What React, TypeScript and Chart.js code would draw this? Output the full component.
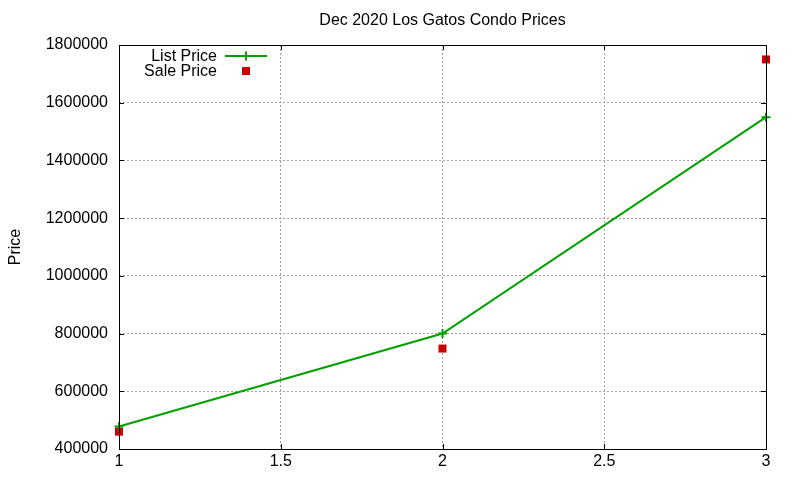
import React, { useEffect, useRef } from 'react';
import { Chart, registerables } from 'chart.js';

Chart.register(...registerables);

const X_VALUES = [1, 2, 3];
const LIST_PRICES = [478000, 800000, 1550000];
const SALE_PRICES = [460000, 748000, 1750000];

const TITLE = 'Dec 2020 Los Gatos Condo Prices';
const Y_LABEL = 'Price';
const FONT = '"Liberation Sans", Arial, sans-serif';
const GREEN = '#00a000';
const RED = '#cc0000';

// gnuplot-like frame with inward ticks, title and legend
const gnuplotDecor = {
    id: 'gnuplotDecor',
    afterDraw(chart: any) {
        const { ctx, chartArea: a, scales } = chart;
        ctx.save();
        ctx.strokeStyle = '#000';
        ctx.lineWidth = 1;
        ctx.strokeRect(Math.round(a.left) + 0.5, Math.round(a.top) + 0.5, Math.round(a.right - a.left), Math.round(a.bottom - a.top));

        const tl = 5;
        ctx.beginPath();
        scales.x.ticks.forEach((t: any) => {
            const px = Math.round(scales.x.getPixelForValue(t.value)) + 0.5;
            ctx.moveTo(px, a.bottom); ctx.lineTo(px, a.bottom - tl);
            ctx.moveTo(px, a.top); ctx.lineTo(px, a.top + tl);
        });
        scales.y.ticks.forEach((t: any) => {
            const py = Math.round(scales.y.getPixelForValue(t.value)) + 0.5;
            ctx.moveTo(a.left, py); ctx.lineTo(a.left + tl, py);
            ctx.moveTo(a.right, py); ctx.lineTo(a.right - tl, py);
        });
        ctx.stroke();

        ctx.fillStyle = '#000';
        ctx.font = `16px ${FONT}`;
        ctx.textAlign = 'center';
        ctx.textBaseline = 'middle';
        ctx.fillText(TITLE, (a.left + a.right) / 2, 21);

        // legend
        ctx.textAlign = 'right';
        ctx.fillText('List Price', 217, 56.5);
        ctx.fillText('Sale Price', 217, 72);
        ctx.strokeStyle = GREEN;
        ctx.lineWidth = 2;
        ctx.beginPath();
        ctx.moveTo(225, 56); ctx.lineTo(267, 56);
        ctx.moveTo(246, 51.5); ctx.lineTo(246, 60.5);
        ctx.stroke();
        ctx.fillStyle = RED;
        ctx.fillRect(242, 67, 8, 8);
        ctx.restore();
    }
};

export default function App() {
    const canvasRef = useRef<HTMLCanvasElement>(null);

    useEffect(() => {
        document.body.style.margin = '0';
        if (!canvasRef.current) return;

        const chart = new Chart(canvasRef.current, {
            type: 'line',
            data: {
                datasets: [
                    {
                        label: 'List Price',
                        data: X_VALUES.map((x, i) => ({ x, y: LIST_PRICES[i] })),
                        borderColor: GREEN,
                        backgroundColor: GREEN,
                        borderWidth: 2,
                        pointStyle: 'cross',
                        pointRadius: 4.5,
                        pointBorderWidth: 2,
                        tension: 0,
                        clip: false,
                    },
                    {
                        label: 'Sale Price',
                        data: X_VALUES.map((x, i) => ({ x, y: SALE_PRICES[i] })),
                        showLine: false,
                        borderColor: RED,
                        backgroundColor: RED,
                        pointStyle: 'rect',
                        pointRadius: 5.66,
                        pointBorderWidth: 0,
                        clip: false,
                    },
                ],
            },
            options: {
                responsive: false,
                animation: false,
                layout: { padding: { top: 45, right: 34, left: 0, bottom: 0 } },
                plugins: {
                    legend: { display: false },
                    title: { display: false },
                    tooltip: { enabled: false },
                },
                scales: {
                    x: {
                        type: 'linear',
                        min: 1,
                        max: 3,
                        afterFit: (s: any) => { s.height = 31; },
                        ticks: {
                            stepSize: 0.5,
                            color: '#000',
                            padding: 3,
                            font: { family: FONT, size: 16 },
                            callback: (v: any) => String(v),
                        },
                        grid: { color: '#a0a0a0', drawTicks: false },
                        border: { display: false, dash: [2, 2] },
                    },
                    y: {
                        type: 'linear',
                        min: 400000,
                        max: 1800000,
                        afterFit: (s: any) => { s.width = 119; },
                        ticks: {
                            stepSize: 200000,
                            color: '#000',
                            padding: 11,
                            font: { family: FONT, size: 16 },
                            callback: (v: any) => String(v),
                        },
                        title: {
                            display: true,
                            text: Y_LABEL,
                            color: '#000',
                            font: { family: FONT, size: 16 },
                            padding: { top: 6, bottom: 0 },
                        },
                        grid: { color: '#a0a0a0', drawTicks: false },
                        border: { display: false, dash: [2, 2] },
                    },
                },
            },
            plugins: [gnuplotDecor],
        });

        return () => chart.destroy();
    }, []);

    return (
        <div style={{ width: 800, height: 480, background: '#fff' }}>
            <canvas ref={canvasRef} width={800} height={480}></canvas>
        </div>
    );
}
